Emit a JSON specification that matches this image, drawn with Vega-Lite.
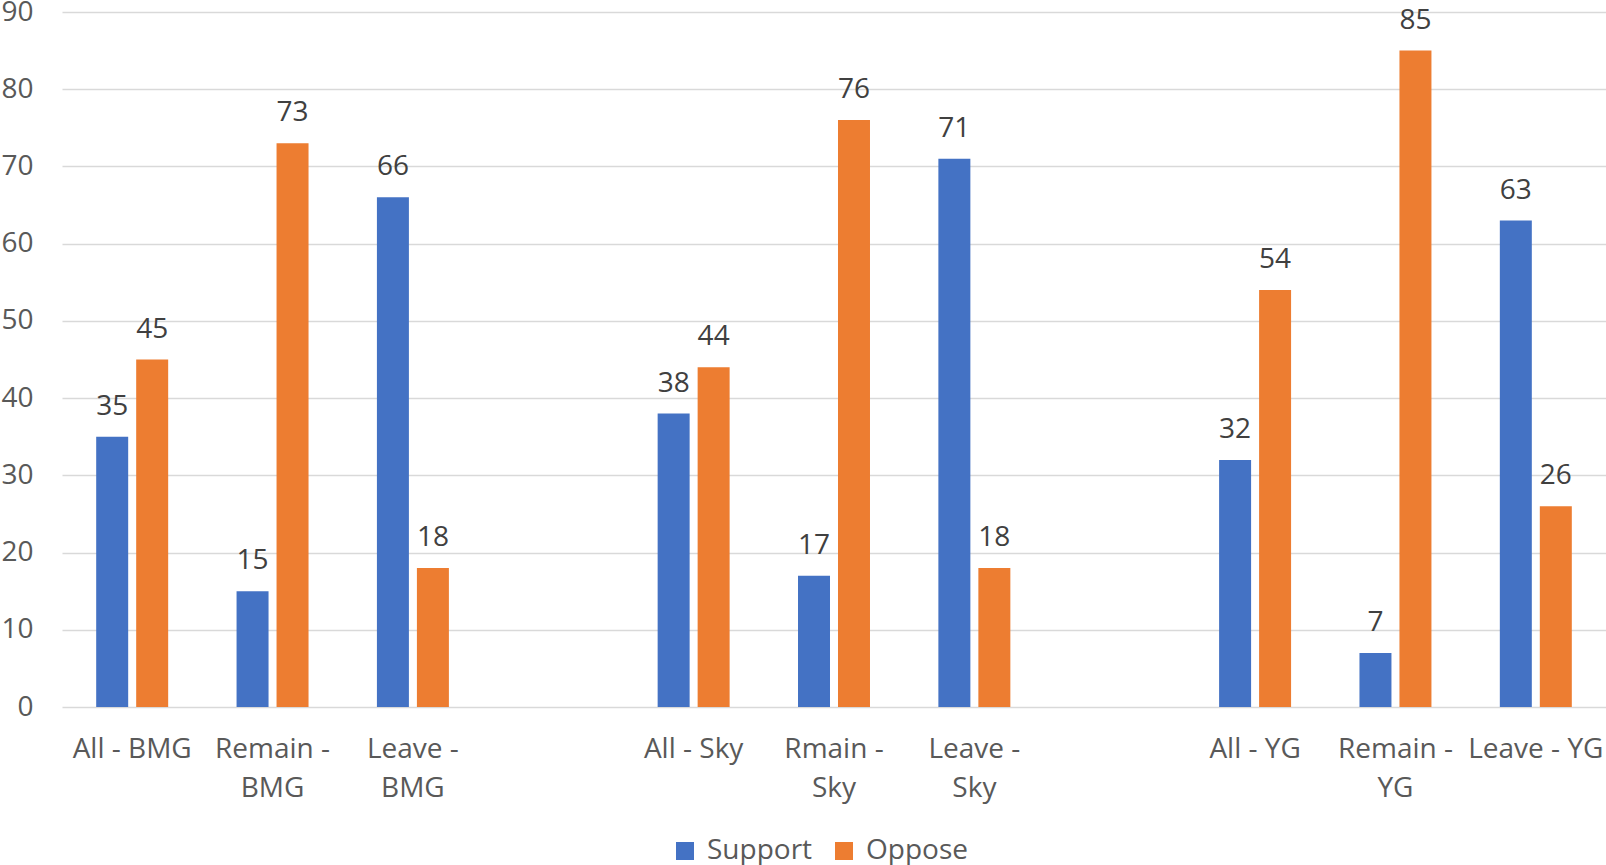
{
  "$schema": "https://vega.github.io/schema/vega-lite/v6.json",
  "width": 1544,
  "height": 695,
  "autosize": {"type": "none"},
  "padding": {"left": 62, "top": 12, "right": 0, "bottom": 158},
  "background": "white",
  "config": {
    "view": {"stroke": null},
    "font": "Open Sans"
  },
  "data": {
    "values": [
      {"category": "All - BMG", "series": "Support", "value": 35},
      {"category": "All - BMG", "series": "Oppose", "value": 45},
      {"category": "Remain - BMG", "series": "Support", "value": 15},
      {"category": "Remain - BMG", "series": "Oppose", "value": 73},
      {"category": "Leave - BMG", "series": "Support", "value": 66},
      {"category": "Leave - BMG", "series": "Oppose", "value": 18},
      {"category": "All - Sky", "series": "Support", "value": 38},
      {"category": "All - Sky", "series": "Oppose", "value": 44},
      {"category": "Rmain - Sky", "series": "Support", "value": 17},
      {"category": "Rmain - Sky", "series": "Oppose", "value": 76},
      {"category": "Leave - Sky", "series": "Support", "value": 71},
      {"category": "Leave - Sky", "series": "Oppose", "value": 18},
      {"category": "All - YG", "series": "Support", "value": 32},
      {"category": "All - YG", "series": "Oppose", "value": 54},
      {"category": "Remain - YG", "series": "Support", "value": 7},
      {"category": "Remain - YG", "series": "Oppose", "value": 85},
      {"category": "Leave - YG", "series": "Support", "value": 63},
      {"category": "Leave - YG", "series": "Oppose", "value": 26}
    ]
  },
  "encoding": {
    "x": {
      "field": "category",
      "type": "nominal",
      "scale": {
        "domain": ["All - BMG", "Remain - BMG", "Leave - BMG", "gap1", "All - Sky", "Rmain - Sky", "Leave - Sky", "gap2", "All - YG", "Remain - YG", "Leave - YG"],
        "paddingInner": 0,
        "paddingOuter": 0
      },
      "axis": {
        "title": null,
        "domain": false,
        "ticks": false,
        "labelAngle": 0,
        "labelFontSize": 28,
        "labelColor": "#595959",
        "labelPadding": 28,
        "labelLineHeight": 39,
        "labelBaseline": "top",
        "labelExpr": "indexof(datum.value, 'gap') == 0 ? '' : (length(datum.value) > 10 ? [slice(datum.value, 0, indexof(datum.value, ' - ') + 2), slice(datum.value, indexof(datum.value, ' - ') + 3)] : datum.value)"
      }
    },
    "xOffset": {
      "field": "series",
      "type": "nominal",
      "sort": ["Support", "Oppose"],
      "scale": {"paddingInner": 0.2, "paddingOuter": 0.855}
    },
    "y": {
      "field": "value",
      "type": "quantitative",
      "scale": {"domain": [0, 90], "nice": false},
      "axis": {
        "title": null,
        "domain": false,
        "ticks": false,
        "values": [0, 10, 20, 30, 40, 50, 60, 70, 80, 90],
        "labelFontSize": 28,
        "labelColor": "#595959",
        "labelPadding": 29,
        "gridColor": "#D9D9D9",
        "gridWidth": 1.5
      }
    }
  },
  "layer": [
    {
      "mark": {"type": "bar"},
      "encoding": {
        "color": {
          "field": "series",
          "type": "nominal",
          "scale": {"domain": ["Support", "Oppose"], "range": ["#4472C4", "#ED7D31"]},
          "legend": {
            "title": null,
            "orient": "none",
            "direction": "horizontal",
            "legendX": 609,
            "legendY": 825,
            "symbolType": "square",
            "symbolSize": 324,
            "symbolStrokeWidth": 0,
            "labelFontSize": 28,
            "labelColor": "#595959",
            "labelOffset": 8,
            "columnPadding": 17
          }
        }
      }
    },
    {
      "mark": {"type": "text", "baseline": "middle", "dy": -30, "fontSize": 28, "color": "#404040"},
      "encoding": {
        "text": {"field": "value", "type": "quantitative"}
      }
    }
  ]
}
